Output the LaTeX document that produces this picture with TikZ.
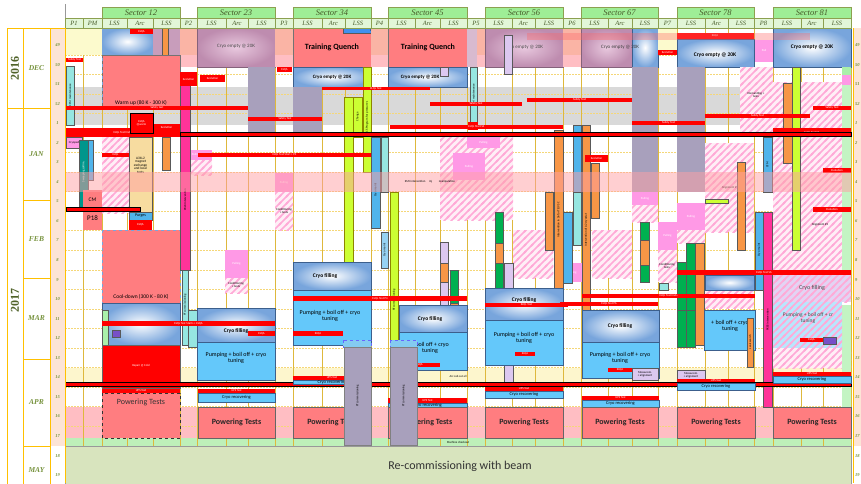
\documentclass[tikz,border=0pt]{standalone}
\usepackage{fontspec}
\setmainfont{Carlito}
\newfontfamily\hdrfont{Liberation Serif}
\usetikzlibrary{patterns}
\newcommand\fsz[1]{\fontsize{#1}{#1}\selectfont}
\newcommand\rbox[5]{\path[#1] (#2,#3) rectangle (#4,#5);}
\newcommand\putt[4]{\node[#1] at (#2,#3) {#4};}
\pgfdeclarepatternformonly{wstripes}{\pgfqpoint{-1pt}{-1pt}}{\pgfqpoint{8pt}{8pt}}{\pgfqpoint{7pt}{7pt}}{%
  \pgfsetlinewidth{1.5pt}%
  \pgfpathmoveto{\pgfqpoint{-1pt}{-1pt}}\pgfpathlineto{\pgfqpoint{8pt}{8pt}}%
  \pgfpathmoveto{\pgfqpoint{-1pt}{6pt}}\pgfpathlineto{\pgfqpoint{1pt}{8pt}}%
  \pgfpathmoveto{\pgfqpoint{6pt}{-1pt}}\pgfpathlineto{\pgfqpoint{8pt}{1pt}}%
  \pgfusepath{stroke}}
\definecolor{gridc}{RGB}{222,184,60}
\definecolor{gridl}{RGB}{245,215,120}
\definecolor{axo}{RGB}{255,192,0}
\definecolor{peach}{RGB}{252,228,214}
\definecolor{axtxt}{RGB}{118,146,60}
\definecolor{yeartxt}{RGB}{79,98,40}
\definecolor{hdrg}{RGB}{158,238,150}
\definecolor{hdrl}{RGB}{226,246,216}
\definecolor{hdrb}{RGB}{140,160,80}
\definecolor{hdrt}{RGB}{70,90,40}
\definecolor{salmon}{RGB}{255,125,128}
\definecolor{salmlt}{RGB}{250,180,165}
\definecolor{pinklt}{RGB}{255,190,195}
\definecolor{mauveo}{RGB}{190,140,175}
\definecolor{mauvei}{RGB}{232,200,222}
\definecolor{cfo}{RGB}{120,165,220}
\definecolor{cfb}{RGB}{60,95,140}
\definecolor{cryob}{RGB}{100,200,250}
\definecolor{lavg}{RGB}{168,160,188}
\definecolor{greyband}{RGB}{217,217,217}
\definecolor{pinkband}{RGB}{255,160,165}
\definecolor{yelband}{RGB}{253,246,205}
\definecolor{ptband}{RGB}{255,190,195}
\definecolor{mcband}{RGB}{190,240,185}
\definecolor{recom}{RGB}{216,228,190}
\definecolor{magb}{RGB}{255,51,153}
\definecolor{limeb}{RGB}{204,255,51}
\definecolor{greenb}{RGB}{0,176,80}
\definecolor{orangeb}{RGB}{247,150,70}
\definecolor{lavlt}{RGB}{220,200,240}
\definecolor{cyanlt}{RGB}{150,230,225}
\definecolor{tealb}{RGB}{0,150,140}
\definecolor{pinkp}{RGB}{255,153,230}
\definecolor{hatchc}{RGB}{255,170,215}
\definecolor{hatchbg}{RGB}{255,238,246}
\definecolor{tanb}{RGB}{247,220,160}
\definecolor{purpb}{RGB}{120,80,200}
\definecolor{lyel}{RGB}{252,250,205}
\definecolor{lgreenb}{RGB}{170,240,170}
\definecolor{blueb}{RGB}{80,180,235}
\tikzset{
 bx/.style={draw=black!65, line width=0.4pt},
 rb/.style={fill=red},
 rbo/.style={fill=red, draw=black, line width=0.5pt},
 cryof/.style={draw=cfb, line width=0.6pt, inner color=white, outer color=cfo},
 cempty/.style={draw=mauveo!70!black, line width=0.4pt, inner color=mauvei, outer color=mauveo},
 pump/.style={fill=cryob, draw=cfb, line width=0.5pt},
 ptbox/.style={fill=salmon, draw=black!60, line width=0.6pt},
 tq/.style={fill=salmon, draw=black!55, line width=0.5pt},
 hatch/.style={fill=hatchbg, postaction={pattern=wstripes, pattern color=hatchc}},
 wt/.style={text=white, font=\fsz{3}},
 bt/.style={text=black, font=\fsz{3}},
 vt/.style={rotate=90, font=\fsz{3}},
 wk/.style={font=\hdrfont\itshape\bfseries\fsz{4.5}, text=axtxt},
 mon/.style={font=\hdrfont\itshape\bfseries\fsz{7.5}, text=axtxt},
 sech/.style={font=\hdrfont\itshape\fsz{8.5}, text=hdrt},
 subh/.style={font=\hdrfont\itshape\fsz{6.5}, text=hdrt},
 ptt/.style={font=\bfseries\fsz{8}, text=black!85},
}
\begin{document}
\begin{tikzpicture}[x=1pt,y=-1pt, every node/.style={inner sep=0pt, align=center}]
\clip (0,0) rectangle (861,483);
\fill[white] (0,0) rectangle (861,483);
% ---------- bands ----------
\fill[greyband] (65,87) rectangle (851,125);
\fill[yelband] (65,368) rectangle (851,387);
\fill[ptband] (65,407) rectangle (851,438);
\fill[mcband] (65,438) rectangle (851,446);
% ---------- grid ----------
\foreach \k in {1,...,20} \draw[gridl, dash pattern=on 1.5pt off 1.5pt, line width=0.5pt] (65,35.2+19.55*\k) -- (851,35.2+19.55*\k);
\foreach \x in {65,83,102,127,153,180,197,226,248,275,293,322,345,371,388,415,440,467,485,512,535,563,581,608,632,658,677,705,728,754,773,801,823,851}
  \draw[gridc, line width=0.9pt] (\x,28) -- (\x,446);
% ---------- top row ----------
\fill[lyel] (65,28) rectangle (102,55);
\path[inner color=white, outer color=cfo] (102,28) rectangle (153,55);
\fill[mauveo!85] (153,28) rectangle (180,55);
\rbox{fill=orangeb,bx}{162}{28}{168}{55}
\rbox{rb}{130}{29}{153}{34}\putt{wt}{141.5}{31.5}{ELQA}
\fill[salmlt] (180,28) rectangle (197,55); \fill[pinklt] (180,55) rectangle (197,67);
\path[cempty] (197,28) rectangle (275,67); \putt{font=\fsz{5}, text=black!70}{236}{46}{Cryo empty @ 20K}
\fill[salmlt] (275,28) rectangle (293,55); \fill[pinklt] (275,55) rectangle (293,67);
\path[tq] (293,28) rectangle (371,67); \putt{font=\bfseries\fsz{8}}{332}{47}{Training Quench}
\rbox{fill=blueb!80!blue,bx}{343}{28}{417}{33}\putt{bt}{380}{30.5}{PT Conditioning}
\path[cryof] (293,67) rectangle (371,87); \putt{font=\bfseries\fsz{5}}{332}{77}{Cryo empty @ 20K}
\fill[salmlt] (371,28) rectangle (388,55); \fill[pinklt] (371,55) rectangle (388,67);
\path[tq] (388,28) rectangle (467,67); \putt{font=\bfseries\fsz{8}}{428}{47}{Training Quench}
\path[cryof] (388,67) rectangle (467,87); \putt{font=\bfseries\fsz{5}}{420}{77}{Cryo empty @ 20K}
\rbox{fill=lavlt,bx}{440}{67}{448}{76}
\fill[mauveo!60] (467,28) rectangle (477,67); \fill[salmlt] (477,28) rectangle (485,55); \fill[pinklt] (477,55) rectangle (485,67);
\path[cempty] (485,28) rectangle (563,67); \putt{font=\fsz{5}, text=black!70}{524}{47}{Cryo empty @ 20K}
\rbox{fill=lavlt,bx}{504}{35}{512}{74}
\fill[salmlt] (563,28) rectangle (581,55); \fill[pinklt] (563,55) rectangle (581,67);
\path[cempty] (581,28) rectangle (632,67);
\path[inner color=white, outer color=cfo] (632,28) rectangle (658,67);
\draw[cfb, line width=0.5pt] (632,28) -- (632,67) -- (658,67) -- (658,28);
\putt{font=\fsz{5}, text=black!75}{620}{47}{Cryo empty @ 20K}
\fill[lyel] (658,28) rectangle (677,50); \rbox{rb}{658}{50}{677}{55}\putt{wt}{667.5}{52.5}{Evolution}
\rbox{rb}{677}{33}{754}{39}\putt{wt}{715}{36}{ELQA}
\path[cryof] (677,39) rectangle (754,67); \putt{font=\bfseries\fsz{5.5}}{715}{55}{Cryo empty @ 20K}
\rbox{fill=pinkp}{755}{40}{773}{62}\putt{wt}{764}{50}{Pull}
\path[cryof] (773,28) rectangle (851,67); \putt{font=\bfseries\fsz{5.5}}{812}{47}{Cryo empty @ 20K}
\fill[red!60, opacity=0.35] (527,33) rectangle (810,40);
% ---------- sector 12 big blocks ----------
\rbox{fill=salmon,draw=black!55,line width=0.5pt}{102}{55}{180}{108}
\putt{font=\fsz{5.5}}{141}{103}{Warm up (80 K - 300 K)}
\draw[cfo, dashed, line width=0.8pt] (102,28) -- (102,108);
\rbox{fill=salmon,draw=cfo,dashed,line width=0.8pt}{102}{230}{180}{303}
\putt{font=\fsz{5.5}}{141}{297}{Cool-down (300 K - 80 K)}
\path[cryof] (102,303) rectangle (180,345);
\rbox{fill=lgreenb,bx}{102}{310}{108}{345}
\rbox{fill=purpb,bx}{112}{330}{120}{337}
\rbox{fill=red,draw=black!60}{102}{345}{180}{388}\putt{wt}{141}{366}{Repair @ Cold}
% ---------- grey-lavender bars ----------
\fill[lavg] (248,67) rectangle (275,133);
\fill[lavg] (293,87) rectangle (322,133);
\fill[lavg] (632,67) rectangle (658,192);
\fill[lavg] (677,67) rectangle (705,192);
% ---------- hatched regions ----------
\path[hatch] (102,137) rectangle (129,213);
\path[hatch] (440,137) rectangle (513,220);
\path[hatch] (513,230) rectangle (553,278);
\path[hatch] (592,230) rectangle (632,278);
\path[hatch] (705,143) rectangle (754,232);
\path[hatch] (740,67) rectangle (773,133);
\path[hatch] (773,82) rectangle (842,270);
\path[hatch] (677,230) rectangle (705,243);
\path[hatch] (632,205) rectangle (658,222);
\path[hatch] (658,250) rectangle (677,282);
\path[hatch] (275,192) rectangle (293,230);
\path[hatch] (225,278) rectangle (248,293);
\path[hatch] (453,180) rectangle (485,203);
\path[hatch] (180,160) rectangle (212,175);
\path[hatch] (677,290) rectangle (754,308);
\path[hatch] (773,348) rectangle (851,368);
\putt{bt}{756}{95}{Dismantling +\\tests}
\putt{bt}{730}{188}{Alignment \#1}
\putt{bt}{820}{225}{Alignment \#1}
\putt{bt}{284}{211}{Conditioning\\+ tests}
\putt{bt}{236}{285}{Conditioning\\+ tests}
\putt{bt}{667}{266}{Conditioning\\tests}
% ---------- pink pulling boxes ----------
\foreach \a/\b/\c/\d in {180/150/212/160, 275/173/293/192, 225/250/248/278, 467/137/500/148, 453/153/485/180, 632/192/658/205, 658/222/677/250, 677/203/705/230, 563/263/582/282}
  {\fill[pinkp] (\a,\b) rectangle (\c,\d); \node[wt] at ({(\a+\c)/2},{(\b+\d)/2}) {Pulling};}
% ---------- P1 / PM ----------
\rbox{fill=cyanlt,bx}{66}{66}{74}{125}\putt{vt}{70}{95}{CFM maintenance}
\rbox{fill=pinkp,bx}{66}{137}{82}{148}\putt{bt}{74}{142.5}{Cryoped}
\rbox{fill=tealb,bx}{79}{140}{88}{207}\putt{vt,text=white}{83.5}{172}{Sweeping collim.}
\rbox{fill=blueb,bx}{88}{140}{93}{180}
\rbox{fill=salmon}{83}{190}{102}{230}\putt{font=\fsz{7}}{92.5}{218}{P18}\putt{font=\fsz{5.5}}{92.5}{200}{CM}
% ---------- sector 12 misc ----------
\rbox{fill=tanb,bx}{129}{137}{152}{212}\putt{font=\fsz{3.5}}{140.5}{165}{A31L2\\magnet\\exchange\\and local\\tests}
\rbox{fill=blueb,bx}{129}{212}{152}{220}\putt{font=\fsz{4}}{140.5}{216}{Purges}
\rbox{rb}{129}{220}{152}{230}\putt{wt}{140.5}{225}{ELQA}
\rbox{fill=orangeb,bx}{162}{137}{170}{170}
\rbox{fill=magb,bx}{180}{75}{190}{270}\putt{vt}{185}{200}{PX24 Intervention}
\rbox{fill=cyanlt,bx}{182}{270}{188}{345}\putt{vt}{185}{305}{PT commissioning}
\rbox{fill=cyanlt,bx}{188}{310}{197}{347}
% ---------- sector 34 / P4 / 45 bars ----------
\rbox{fill=limeb,draw=olive}{344}{97}{353}{340}\putt{vt}{348.5}{300}{RF commissioning}
\rbox{fill=limeb,draw=olive}{353}{97}{362}{137}\putt{vt}{357.5}{117}{Change}
\rbox{fill=limeb,draw=olive}{363}{67}{371}{172}\putt{vt}{367}{118}{DCS Program for pressures}
\rbox{fill=limeb,draw=olive}{390}{192}{398}{340}\putt{vt}{394}{300}{RF commissioning}
\rbox{fill=blueb,bx}{371}{137}{380}{228}\putt{vt}{375.5}{190}{Cryo maint}
\rbox{fill=cyanlt,bx}{381}{137}{388}{192}
\rbox{fill=blueb!60,bx}{381}{232}{388}{268}\putt{vt}{384.5}{250}{Cryo maint}
\rbox{fill=lavlt,bx}{440}{242}{448}{370}
\rbox{fill=orangeb,bx}{440}{263}{448}{282}
\rbox{fill=greenb,bx}{450}{270}{458}{355}
\rbox{fill=orangeb,bx}{450}{303}{458}{317}
\rbox{fill=cyanlt,bx}{470}{67}{477}{122}\putt{vt}{473.5}{95}{CFM maintenance}
\rbox{rb}{468}{122}{478}{130}
% ---------- sector 56 / P6 / 67 ----------
\rbox{fill=orangeb,bx}{554}{130}{563}{310}\putt{vt}{558.5}{220}{Intervention in 56 for TE/VSC}
\rbox{fill=orangeb,bx}{545}{192}{553}{250}
\rbox{fill=greenb,bx}{495}{212}{503}{297}
\rbox{fill=orangeb,bx}{495}{243}{503}{263}
\rbox{fill=lavlt,bx}{504}{263}{513}{383}
\rbox{fill=blueb,bx}{573}{125}{581}{192}
\rbox{fill=cyanlt,bx}{573}{192}{581}{245}
\rbox{fill=orangeb,bx}{582}{125}{590}{310}\putt{vt}{586}{230}{Intervention of A2 cryostat}
\rbox{fill=orangeb,bx}{591}{163}{599}{218}
\rbox{fill=blueb,bx}{563}{212}{572}{283}
\rbox{rb}{585}{155}{608}{162}\putt{wt}{596.5}{158.5}{Evolution}
\rbox{fill=greenb,bx}{640}{222}{649}{282}
\rbox{fill=orangeb,bx}{640}{240}{649}{265}
\rbox{fill=cyanlt,bx}{659}{283}{668}{290}
% ---------- sector 78 / P8 / 81 ----------
\rbox{fill=orangeb,bx}{737}{162}{745}{250}
\rbox{fill=limeb,bx}{705}{199}{728}{203}
\rbox{fill=greenb,bx}{677}{262}{686}{345}
\rbox{fill=greenb,bx}{686}{243}{695}{345}
\rbox{fill=orangeb,bx}{695}{243}{704}{345}
\rbox{fill=blueb,bx}{763}{137}{772}{192}\putt{vt}{767.5}{165}{CFM}
\rbox{fill=magb,bx}{763}{212}{772}{407}\putt{vt}{767.5}{320}{PX85 intervention}
\rbox{fill=blueb,bx}{755}{212}{763}{290}\putt{vt}{759}{250}{Cryo maint}
\rbox{fill=limeb,bx}{792}{67}{800}{250}
\rbox{fill=orangeb,bx}{783}{83}{792}{163}
\rbox{fill=lgreenb}{842}{67}{851}{75}
\rbox{fill=pinkp}{842}{75}{851}{85}
\rbox{fill=lgreenb!70}{842}{85}{851}{270}
\rbox{fill=lgreenb!70}{842}{305}{851}{407}
% ---------- cryo / pumping boxes ----------
\path[cryof] (197,308) rectangle (275,342); \putt{font=\bfseries\fsz{5.5}}{236}{331}{Cryo filling}
\path[pump] (197,342) rectangle (275,380); \putt{font=\fsz{6}}{236}{358}{Pumping + boil off + cryo\\tuning}
\path[cryof] (293,262) rectangle (371,290); \putt{font=\bfseries\fsz{5.5}}{325}{276}{Cryo filling}
\path[pump] (293,290) rectangle (371,345); \putt{font=\fsz{6}}{330}{316}{Pumping + boil off + cryo\\tuning}
\path[cryof] (399,305) rectangle (467,332); \putt{font=\bfseries\fsz{5.5}}{430}{319}{Cryo filling}
\path[pump] (399,332) rectangle (467,370); \putt{font=\fsz{6}}{430}{348}{+ boil off + cryo\\tuning}
\path[cryof] (485,288) rectangle (563,320); \putt{font=\bfseries\fsz{5.5}}{524}{300}{Cryo filling}
\path[pump] (485,320) rectangle (563,365); \putt{font=\fsz{6}}{524}{338}{Pumping + boil off + cryo\\tuning}
\path[cryof] (582,310) rectangle (659,342); \putt{font=\bfseries\fsz{5.5}}{620}{326}{Cryo filling}
\path[pump] (582,342) rectangle (659,378); \putt{font=\fsz{6}}{620}{358}{Pumping + boil off + cryo\\tuning}
\path[cryof] (705,275) rectangle (754,290);
\path[pump] (704,310) rectangle (755,350); \putt{font=\fsz{6}}{730}{326}{+ boil off + cryo\\tuning}
\rbox{fill=greenb,bx}{677}{310}{686}{347}
\rbox{fill=greenb,bx}{686}{310}{695}{347}
\rbox{fill=orangeb,bx}{747}{318}{753}{367}\putt{vt}{750}{342}{Leak search}
\path[fill=lavlt!80, postaction={pattern=wstripes, pattern color=hatchc}] (773,274) rectangle (851,302);
\putt{font=\fsz{6}, text=black!70}{812}{288}{Cryo filling}
\path[fill=cryob!45, postaction={pattern=wstripes, pattern color=hatchc}] (773,302) rectangle (842,348);
\putt{font=\fsz{5.5}, text=black!70}{808}{318}{Pumping + boil off + cr\\tuning}
\rbox{fill=purpb,bx}{823}{337}{836}{344}
% lavender measurement boxes
\rbox{fill=lavlt,bx}{632}{368}{658}{380}\putt{bt}{645}{374}{Measurem.\\+ alignment}
\rbox{fill=lavlt,bx}{677}{370}{705}{380}\putt{bt}{691}{375}{Measurem.\\+ alignment}
% grey PT bars S34/S45
\rbox{fill=blueb!70,draw=blue!60,dashed}{343}{340}{371}{347}
\rbox{fill=blueb!70,draw=blue!60,dashed}{390}{340}{417}{347}
% ---------- red bars ----------
\foreach \a/\b/\c/\d/\t in {66/58/83/62/Safety Test, 66/106/248/110/Safety test, 248/117/322/121/Safety Test,
  322/87/430/90/ELQL Test, 430/102/522/106/Safety Test, 527/98/632/102/Safety Test, 632/121/705/125/Safety Test,
  705/114/810/118/Safety Test, 813/106/851/110/Safety Test, 65/128/180/137/ELQL Test Ends,
  390/125/563/129/ELQL Start S4/S5 + P4/D5, 773/128/851/137/ELQL Test S1/S8 + ELQA, 198/153/371/157/ELQL Test Start + P4/D5,
  102/153/129/157/ELQL, 102/321/275/326/ELQL Test Starts + ELQA, 293/296/467/301/ELQL Test P4,
  485/303/568/307/ELQL Test, 582/294/755/298/ELQL Test Ends, 560/302/658/306/ELQL Test P6/P8,
  677/270/851/275/ELQL Test S6/S8 + ELQA,
  102/389/180/393/UPS Test, 198/389/275/393/UPS Test, 293/376/371/380/UPS Test, 388/398/467/403/UPS Test,
  485/387/563/391/UPS Test, 582/396/659/400/UPS Test, 677/379/755/383/UPS Test, 773/372/851/376/UPS Test,
  248/331/275/336/ELQA, 293/331/343/336/ELQA, 399/363/440/367/ELQA, 515/352/535/356/ELQA, 608/368/632/372/ELQA, 800/338/823/342/ELQA,
  180/72/197/86/Evolution, 200/75/225/82/Evolution, 277/67/292/72/ELQA, 153/124/180/130/Evolution,
  823/168/851/173/Evolution, 813/207/851/212/Evolution}
  {\fill[red] (\a,\b) rectangle (\c,\d); \node[wt] at ({(\a+\c)/2},{(\b+\d)/2}) {\t};}
\rbox{rbo}{130}{113}{153}{133}\putt{wt}{141.5}{123}{ELQA\\@warm}
\rbox{rbo}{180}{132}{851}{136}
\rbox{rbo}{66}{207}{140}{211}
\rbox{rbo}{65}{382}{851}{386}
% ---------- cryo recovering ----------
\foreach \a/\b/\c/\d in {198/393/275/402, 293/380/371/384, 388/403/467/407, 485/391/563/398, 582/400/659/407, 677/383/755/390, 773/376/851/383}
  {\path[pump] (\a,\b) rectangle (\c,\d); \node[font=\fsz{4.5}] at ({(\a+\c)/2},{(\b+\d)/2}) {Cryo recovering};}
% ---------- pink translucent band ----------
\fill[pinkband, opacity=0.5] (65,172) rectangle (851,192);
\putt{bt}{430}{182}{EMJ intervention \quad inj \qquad manipulation}
% ---------- powering tests ----------
\rbox{fill=salmon,draw=black!80,dashed,line width=0.7pt}{102}{393}{180}{438}
\putt{font=\fsz{8}, text=black!80}{141}{402}{Powering Tests}
\foreach \a/\c in {198/275, 293/371, 388/467, 485/563, 582/658, 677/755, 773/851}
  {\path[ptbox] (\a,407) rectangle (\c,438); \node[ptt] at ({(\a+\c)/2},422.5) {Powering Tests};}
\rbox{fill=lavg,draw=black!50}{344}{347}{371}{445}\putt{vt}{357.5}{396}{PT commissioning}
\rbox{fill=lavg,draw=black!50}{390}{347}{417}{445}\putt{vt}{403.5}{396}{PT commissioning}
\putt{bt}{458}{442}{Machine checkout}
\putt{bt}{458}{376}{Arc cab cut all}
% ---------- recommissioning ----------
\rbox{fill=recom,draw=black!40}{65}{446}{851}{490}
\putt{font=\fsz{12}, text=black!80}{460}{466}{Re-commissioning with beam}
% ---------- header ----------
\draw[black!40, line width=0.5pt] (65,4) -- (65,28);
\foreach \a/\c/\t in {102/180/12, 197/275/23, 293/371/34, 388/467/45, 485/563/56, 581/658/67, 677/754/78, 773/851/81}
  {\path[fill=hdrg, draw=hdrb, line width=0.7pt] (\a,7) rectangle (\c,18); \node[sech] at ({(\a+\c)/2},12.5) {Sector \t};}
\foreach \a/\c/\t in {65/83/P1, 83/102/PM, 102/127/LSS, 127/153/Arc, 153/180/LSS, 180/197/P2,
  197/226/LSS, 226/248/Arc, 248/275/LSS, 275/293/P3, 293/322/LSS, 322/345/Arc, 345/371/LSS, 371/388/P4,
  388/415/LSS, 415/440/Arc, 440/467/LSS, 467/485/P5, 485/512/LSS, 512/535/Arc, 535/563/LSS, 563/581/P6,
  581/608/LSS, 608/632/Arc, 632/658/LSS, 658/677/P7, 677/705/LSS, 705/728/Arc, 728/754/LSS, 754/773/P8,
  773/801/LSS, 801/823/Arc, 823/851/LSS}
  {\path[fill=hdrl, draw=hdrb, line width=0.4pt] (\a,18) rectangle (\c,28); \node[subh] at ({(\a+\c)/2},23.2) {\t};}
% ---------- left axis ----------
\fill[peach] (50,28) rectangle (65,446);
\fill[white] (50,446) rectangle (65,483);
\draw[axo, line width=1pt] (7,28) rectangle (23,108);
\draw[axo, line width=1pt] (7,108) rectangle (23,495);
\node[rotate=90, font=\hdrfont\bfseries\fsz{12}, text=yeartxt] at (15,68) {2016};
\node[rotate=90, font=\hdrfont\bfseries\fsz{12}, text=yeartxt] at (15,300) {2017};
\foreach \a/\b/\t in {28/108/DEC, 108/200/JAN, 200/278/FEB, 278/359/MAR, 359/446/APR, 446/495/MAY}
  {\draw[axo, line width=1pt] (23,\a) rectangle (50,\b); \node[mon] at (36.5,{(\a+\b)/2}) {\t};}
\draw[axo, line width=0.8pt] (50,28) -- (50,483) (65,28) -- (65,483);
\draw[axo, line width=0.8pt] (50,28) -- (65,28);
\fill[peach] (853,28) rectangle (861,446);
\draw[axo, line width=0.8pt] (853,28) -- (853,483);
\foreach \w [count=\k from 0] in {49,50,51,52,1,2,3,4,5,6,7,8,9,10,11,12,13,14,15,16,17,18,19}
  {\node[wk] at (57.5,{45+19.55*\k}) {\w}; \node[wk, anchor=west] at (855,{45+19.55*\k}) {\w};}
\end{tikzpicture}
\end{document}
